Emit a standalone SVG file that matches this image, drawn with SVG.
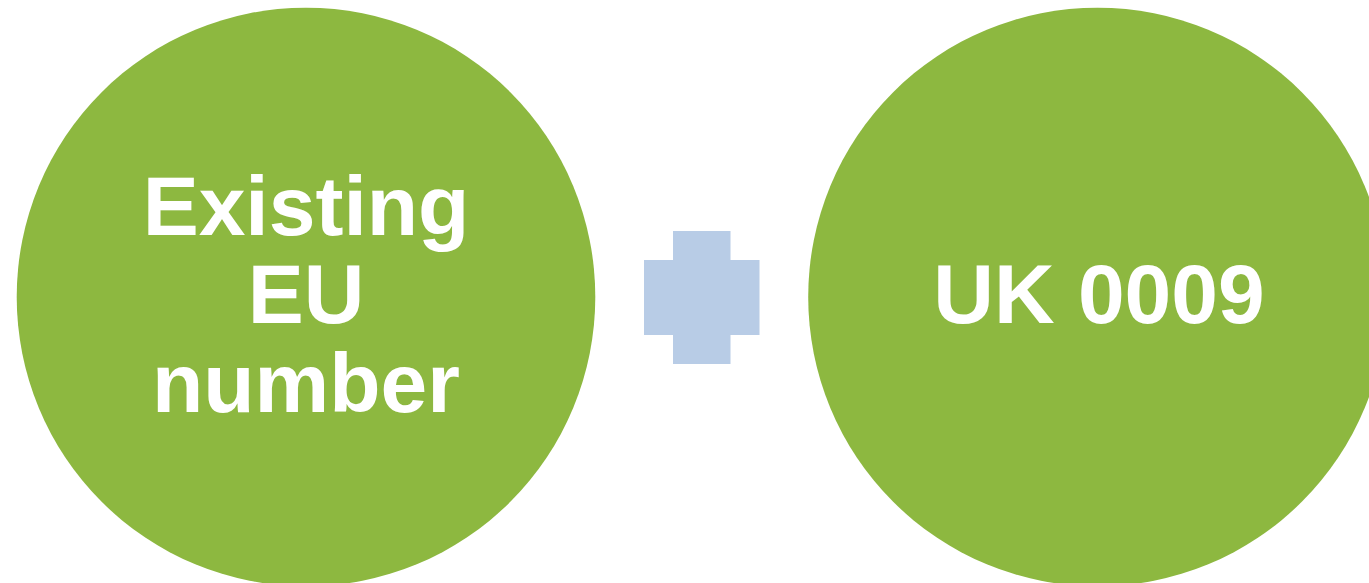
<svg xmlns="http://www.w3.org/2000/svg" width="1369" height="583" viewBox="0 0 1369 583">
<style>
.node{fill:#8db840}
.lbl{fill:#ffffff;font-family:"Liberation Sans",Arial,sans-serif;font-weight:bold;font-size:84px;text-anchor:middle}
.plus{fill:#b8cce6}
</style>
<rect width="1369" height="583" fill="#ffffff"/>
<g id="node-existing-eu">
<circle class="node" cx="306" cy="297" r="289.3"/>
<text class="lbl" x="306" y="235">Existing</text>
<text class="lbl" x="306" y="323">EU</text>
<text class="lbl" x="306" y="412">number</text>
</g>
<g id="connectors">
<path class="plus" d="M673,231 H730.5 V260 H759.5 V335 H730.5 V364 H673 V335 H644 V260 H673 Z"/>
</g>
<g id="node-uk">
<circle class="node" cx="1097.5" cy="297" r="289.3"/>
<text class="lbl" x="1099" y="323">UK 0009</text>
</g>
</svg>
